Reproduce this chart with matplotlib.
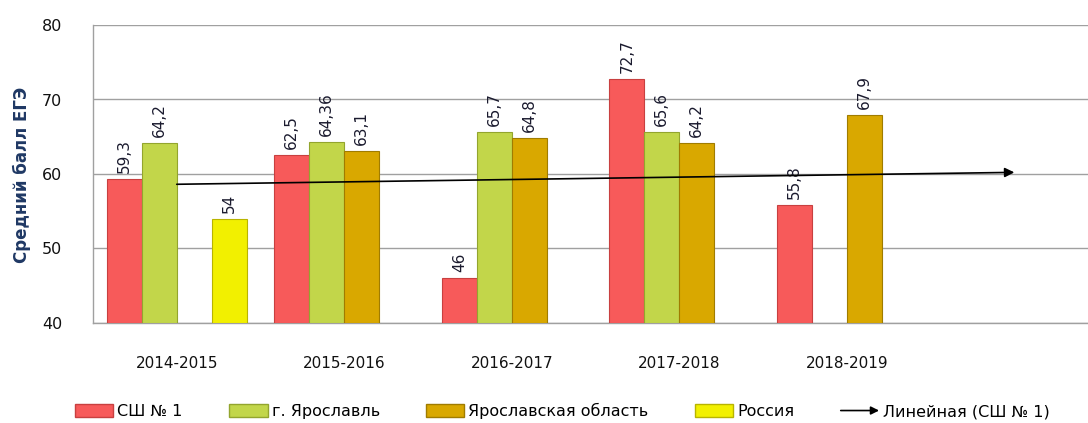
import numpy as np
import matplotlib
matplotlib.use("Agg")
import matplotlib.pyplot as plt
from matplotlib.patches import Patch, FancyArrowPatch
from matplotlib.legend_handler import HandlerBase

categories = ["2014-2015", "2015-2016", "2016-2017", "2017-2018", "2018-2019"]
series_names = ["СШ № 1", "г. Ярославль", "Ярославская область", "Россия"]
sh1 = [59.3, 62.5, 46, 72.7, 55.8]
yaroslavl = [64.2, 64.36, 65.7, 65.6, None]
oblast = [None, 63.1, 64.8, 64.2, 67.9]
russia = [54, None, None, None, None]
label_texts = {
    0: ["59,3", "62,5", "46", "72,7", "55,8"],
    1: ["64,2", "64,36", "65,7", "65,6", None],
    2: [None, "63,1", "64,8", "64,2", "67,9"],
    3: ["54", None, None, None, None],
}
trend_name = "Линейная (СШ № 1)"
colors = ["#F75A5A", "#C2D64A", "#D9A800", "#F2F000"]
edges = ["#C84040", "#93A52E", "#A07C00", "#B8B400"]


class ArrowHandle:
    pass


class HandlerArrow(HandlerBase):
    def create_artists(self, legend, orig_handle, xdescent, ydescent,
                       width, height, fontsize, trans):
        y = height / 2 - ydescent
        a = FancyArrowPatch((-xdescent, y), (width - xdescent, y),
                            arrowstyle='-|>', mutation_scale=12, color='black',
                            lw=1.2, shrinkA=0, shrinkB=0, transform=trans)
        return [a]


plt.rcParams['font.family'] = ['DejaVu Sans']
fig = plt.figure(figsize=(10.88, 4.23), dpi=100)
ax = fig.add_axes([93/1088, 1-323/423, 1-93/1088, (323-25)/423])

x = np.arange(len(categories))
bw = 0.209
offsets = [-1.5, -0.5, 0.5, 1.5]
data = [sh1, yaroslavl, oblast, russia]
for si, vals in enumerate(data):
    for ci, v in enumerate(vals):
        if v is None:
            continue
        xp = x[ci] + offsets[si]*bw
        ax.bar(xp, v - 40, bottom=40, width=bw, color=colors[si],
               edgecolor=edges[si], linewidth=0.8, zorder=3)
        t = label_texts[si][ci]
        ax.text(xp, v + 0.8, t, rotation=90, ha='center', va='bottom',
                fontsize=11, color='#1a1a2e', zorder=5)

# linear trendline for СШ № 1, forecast one period forward
coef = np.polyfit(np.arange(1, 6), sh1, 1)
xt = np.array([1, 6])
yt = np.polyval(coef, xt)
ax.annotate("", xy=(xt[1]-1, yt[1]), xytext=(xt[0]-1, yt[0]),
            arrowprops=dict(arrowstyle='-|>', color='black', lw=1.2,
                            mutation_scale=14, shrinkA=0, shrinkB=0), zorder=6)

ax.set_xlim(-0.5, 5.44)
ax.set_ylim(40, 80)
ax.set_yticks([40, 50, 60, 70, 80])
ax.set_xticks(x)
ax.set_xticklabels(categories, fontsize=11, color='#111111')
ax.tick_params(axis='x', length=0, pad=24)
ax.tick_params(axis='y', length=0, pad=22, labelsize=11.5, labelcolor='#111111')
ax.grid(axis='y', color='#a0a0a0', linewidth=1.0, zorder=0)
for s in ['top', 'right']:
    ax.spines[s].set_visible(False)
ax.spines['left'].set_color('#a0a0a0')
ax.spines['bottom'].set_color('#a0a0a0')
ax.spines['left'].set_linewidth(1.0)
ax.spines['bottom'].set_linewidth(1.0)

fig.text(22/1088, 1-175/423, "Средний балл ЕГЭ", rotation=90, ha='center', va='center',
         fontsize=12, fontweight='bold', color='#1F3864')

handles = [Patch(facecolor=colors[i], edgecolor=edges[i], label=series_names[i]) for i in range(4)]
arrow_h = ArrowHandle()
handles.append(arrow_h)
labels = series_names + [trend_name]
fig.legend(handles=handles, labels=labels, loc='center', bbox_to_anchor=(0.517, 1-411/423), ncol=5,
           frameon=False, fontsize=11.5, handlelength=2.4, handleheight=0.8,
           columnspacing=2.9, handletextpad=0.25,
           handler_map={ArrowHandle: HandlerArrow()})

fig.savefig("out.png", dpi=100)
